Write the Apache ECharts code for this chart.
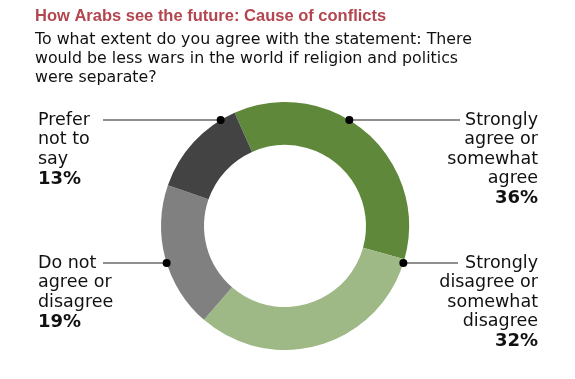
<!DOCTYPE html>
<html><head><meta charset="utf-8">
<script src="https://cdn.jsdelivr.net/npm/echarts@6/dist/echarts.min.js"></script>
<style>html,body{margin:0;padding:0;background:#fff}#c{width:575px;height:379px}</style>
</head><body><div id="c"></div>
<script>
const titleText = "How Arabs see the future: Cause of conflicts";
const subtitleText = "To what extent do you agree with the statement: There\nwould be less wars in the world if religion and politics\nwere separate?";
const categories = ["Strongly\nagree or\nsomewhat\nagree", "Strongly\ndisagree or\nsomewhat\ndisagree", "Do not\nagree or\ndisagree", "Prefer\nnot to\nsay"];
const values = [36, 32, 19, 13];
const colors = ["#5f883b", "#9eb886", "#808080", "#434343"];

const FONT = "DejaVu Sans";
const TFONT = "Liberation Sans";
const CX = 285, CY = 226, R_IN = 81, R_OUT = 124;
const layout = [
  {y: 120, side: 1, lineEnd: 460},
  {y: 263, side: 1, lineEnd: 458},
  {y: 263, side: -1, lineEnd: 103},
  {y: 120, side: -1, lineEnd: 103}
];
function dotPos(i) {
  const L = layout[i];
  const dy = L.y - CY;
  const dx = Math.sqrt(R_OUT * R_OUT - dy * dy);
  return [CX + L.side * dx, L.y];
}
const LH = 19.5;
const chart = echarts.init(document.getElementById('c'));
const dots = values.map((v, i) => {
  const p = dotPos(i);
  return {type: 'circle', shape: {cx: p[0], cy: p[1], r: 4}, style: {fill: '#000'}, z: 100};
});
chart.setOption({
  animation: false,
  title: [{
    text: titleText,
    left: 35, top: 6, padding: 0,
    textStyle: {fontFamily: TFONT, fontWeight: 'bold', fontSize: 16.5, color: '#b3464f', lineHeight: 20}
  }, {
    text: subtitleText,
    left: 35, top: 30, padding: 0,
    textStyle: {fontFamily: FONT, fontWeight: 'normal', fontSize: 15.8, color: '#111', lineHeight: 19}
  }],
  graphic: dots,
  series: [{
    type: 'pie',
    center: [CX, CY],
    radius: [R_IN, R_OUT],
    startAngle: 114,
    clockwise: true,
    silent: true,
    data: categories.map((c, i) => ({name: c, value: values[i], itemStyle: {color: colors[i]}})),
    label: {
      show: true,
      fontFamily: FONT,
      formatter: p => p.name.split('\n').map(s => '{n|' + s + '}').join('\n') + '\n{p|' + p.value + '%}',
      rich: {
        n: {fontFamily: FONT, fontSize: 17.5, color: '#111', lineHeight: LH},
        p: {fontFamily: FONT, fontSize: 18, fontWeight: 'bold', color: '#111', lineHeight: 21}
      }
    },
    labelLine: {show: true, lineStyle: {color: '#6a6a6a', width: 1.5}},
    labelLayout: function (params) {
      const i = params.dataIndex;
      const L = layout[i];
      const d = dotPos(i);
      return {
        x: L.side > 0 ? 538 : 38,
        y: L.y - LH / 2,
        align: L.side > 0 ? 'right' : 'left',
        verticalAlign: 'top',
        labelLinePoints: [[d[0], d[1]], [L.lineEnd, L.y], [L.lineEnd, L.y]]
      };
    }
  }]
});
</script></body></html>
